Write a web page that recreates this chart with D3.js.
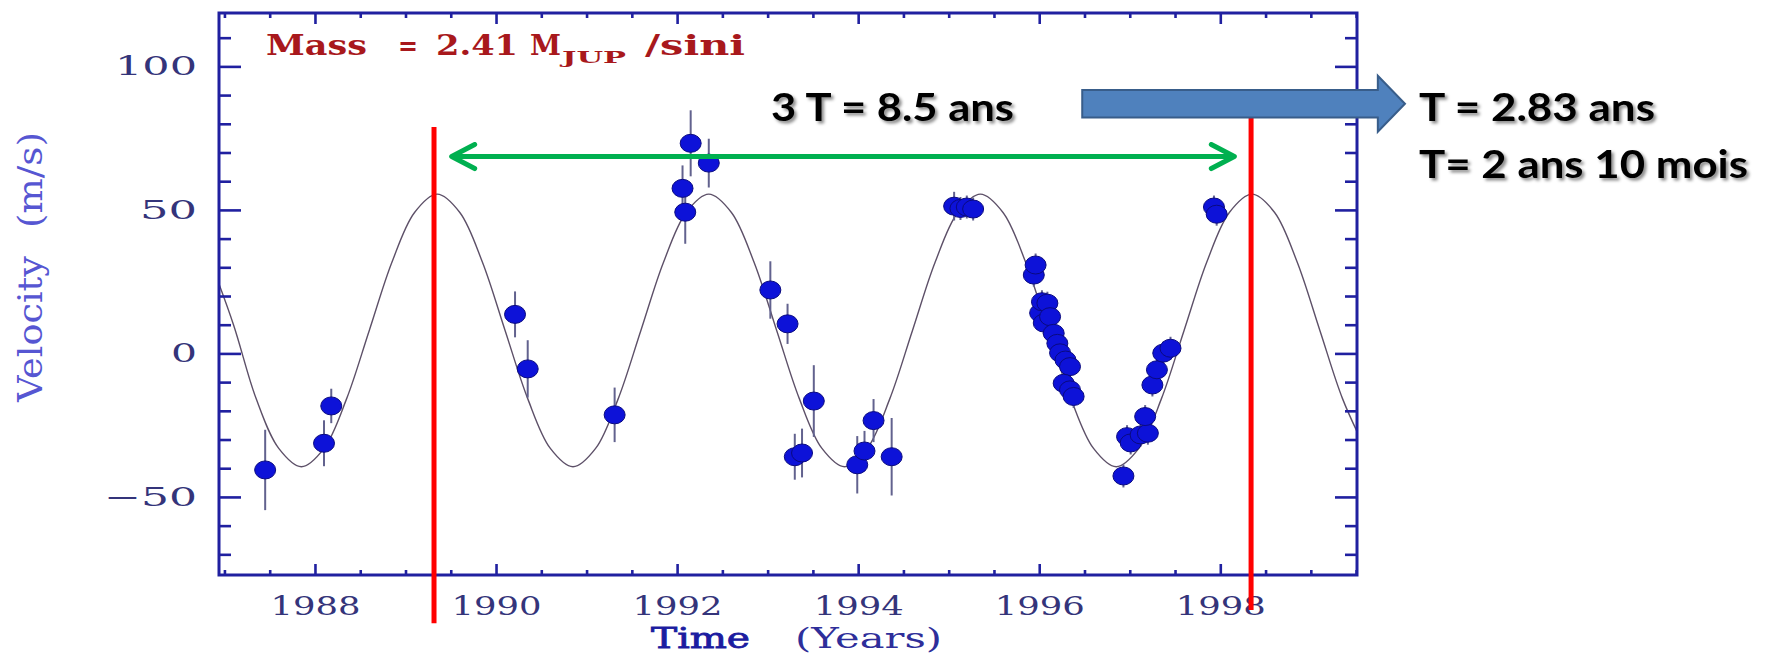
<!DOCTYPE html>
<html>
<head>
<meta charset="utf-8">
<script src="https://cdn.jsdelivr.net/npm/d3@7"></script>
<style>
  html, body { margin: 0; padding: 0; background: #ffffff; }
  svg { display: block; }
</style>
</head>
<body>
<script>
// ---------- data ----------
// fitted orbit curve samples (years, m/s)
const curveYears = [1986.85,1987.10,1987.35,1987.60,1987.85,1988.10,1988.35,1988.60,1988.85,1989.10,
  1989.35,1989.60,1989.85,1990.10,1990.35,1990.60,1990.85,1991.10,1991.35,1991.60,1991.85,1992.10,
  1992.35,1992.60,1992.85,1993.10,1993.35,1993.60,1993.85,1994.10,1994.35,1994.60,1994.85,1995.10,
  1995.35,1995.60,1995.85,1996.10,1996.35,1996.60,1996.85,1997.10,1997.35,1997.60,1997.85,1998.10,
  1998.35,1998.60,1998.85,1999.10,1999.35,1999.60];
const curveVel = [31.75,10,-15.75,-33.1,-39.5,-33.1,-15.75,8,31.75,49.1,
  55.5,49.1,31.75,8,-15.75,-33.1,-39.5,-33.1,-15.75,8,31.75,49.1,
  55.5,49.1,31.75,8,-15.75,-33.1,-39.5,-33.1,-15.75,8,31.75,49.1,
  55.5,49.1,31.75,8,-15.75,-33.1,-39.5,-33.1,-15.75,8,31.75,49.1,
  55.5,49.1,31.75,8,-15.75,-33.1];

// observations: time, velocity, error
const obsYears = [1987.45,1988.10,1988.18,1990.21,1990.35,1991.31,1992.06,1992.09,1992.15,1992.35,
  1993.03,1993.22,1993.30,1993.38,1993.51,1993.99,1994.07,1994.17,1994.37,
  1995.06,1995.13,1995.20,1995.27,
  1995.94,1995.96,1996.01,1996.03,1996.05,1996.09,1996.12,1996.16,1996.20,1996.23,1996.29,1996.34,1996.27,1996.34,1996.38,
  1996.93,1996.97,1997.01,1997.12,1997.20,1997.17,1997.25,1997.30,1997.37,1997.45,
  1997.93,1997.96];
const obsVel = [-40.6,-31.3,-18.3,13.6,-5.4,-21.4,57.5,49.2,73.2,66.3,
  22.1,10.3,-36.0,-34.7,-16.6,-38.8,-34.0,-23.4,-36.0,
  51.3,50.5,51.0,50.3,
  27.3,30.8,14.1,18.0,10.6,17.5,12.8,7.0,3.5,0.2,-2.3,-4.6,-10.4,-12.7,-15.0,
  -42.7,-29.0,-31.2,-28.4,-27.8,-22.0,-11.0,-5.7,0.1,1.8,
  51.0,48.5];
const obsErr = [14,8,6,8,10,9.5,8,11,11.5,8.5,
  10,7,8,8.5,12.5,10,7,7.5,13.5,
  5,4,4,4,
  4,4,4,4,4,4,4,4,4,4,4,4,4,4,4,
  4,4,4,4,4,4,4,4,4,4,
  4,4];

// axis ticks
const xMajorTicks = [1988,1990,1992,1994,1996,1998];
const xMinorTicks = [1987,1987.5,1988.5,1989,1989.5,1990.5,1991,1991.5,1992.5,1993,1993.5,1994.5,1995,1995.5,1996.5,1997,1997.5,1998.5,1999,1999.5];
const yMajorTicks = [-50,0,50,100];
const yMinorTicks = [-70,-60,-40,-30,-20,-10,10,20,30,40,60,70,80,90,110];

// annotations
const redLineYears = [1989.315, 1998.34];
const redLineTop = [78.9, 82.7];
const redLineBottom = [-94, -89.4];
const greenArrow = {from: 1989.51, to: 1998.155, v: 68.6};
const blueArrow = {from: 1996.475, headBase: 1999.74, tip: 2000.04, v: 87};
const massLabel = ["Mass", "=", "2.41", "M", "JUP", "/sini"];
const annoTexts = ["3 T = 8.5 ans", "T = 2.83 ans", "T= 2 ans 10 mois"];

// ---------- drawing ----------
const W = 1768, H = 656;
const L = 219, R = 1357, T = 13, B = 575;
const navy = "#2020a0";
const serif = "'DejaVu Serif', serif";

const svg = d3.select("body").append("svg").attr("width", W).attr("height", H);

const defs = svg.append("defs");
defs.append("clipPath").attr("id", "plotclip")
  .append("rect").attr("x", L).attr("y", T).attr("width", R - L).attr("height", B - T);
const f = defs.append("filter").attr("id", "shadow").attr("x", "-10%").attr("y", "-30%").attr("width", "130%").attr("height", "170%");
f.append("feDropShadow").attr("dx", 2.5).attr("dy", 2.5).attr("stdDeviation", 1.8)
  .attr("flood-color", "#000").attr("flood-opacity", 0.45);
const m = defs.append("marker").attr("id", "chev").attr("viewBox", "0 0 30 30")
  .attr("refX", 27).attr("refY", 15).attr("markerWidth", 30).attr("markerHeight", 30)
  .attr("markerUnits", "userSpaceOnUse").attr("orient", "auto-start-reverse");
m.append("path").attr("d", "M4,3 L27,15 L4,27").attr("fill", "none")
  .attr("stroke", "#00b050").attr("stroke-width", 5).attr("stroke-linecap", "round").attr("stroke-linejoin", "round");

const x = d3.scaleLinear().domain([1986.94, 1999.51]).range([L, R]);
const y = d3.scaleLinear().domain([-77.2, 118.6]).range([B, T]);

// curve
const curveData = curveYears.map((t, i) => [t, curveVel[i]]);
svg.append("path").datum(curveData)
  .attr("clip-path", "url(#plotclip)")
  .attr("fill", "none").attr("stroke", "#5d5068").attr("stroke-width", 1.4)
  .attr("d", d3.line().x(d => x(d[0])).y(d => y(d[1])).curve(d3.curveCatmullRom));

// observations
const obs = obsYears.map((t, i) => ({t, v: obsVel[i], e: obsErr[i]}));
svg.append("g").selectAll("line").data(obs).join("line")
  .attr("x1", d => x(d.t)).attr("x2", d => x(d.t))
  .attr("y1", d => y(d.v - d.e)).attr("y2", d => y(d.v + d.e))
  .attr("stroke", "#62628e").attr("stroke-width", 2);
svg.append("g").selectAll("ellipse").data(obs).join("ellipse")
  .attr("cx", d => x(d.t)).attr("cy", d => y(d.v))
  .attr("rx", 10.5).attr("ry", 9)
  .attr("fill", "#0d12d8").attr("stroke", "#0a0a80").attr("stroke-width", 1);

// axes
function styleAxis(g) {
  g.select(".domain").remove();
  g.selectAll(".tick line").attr("stroke", navy).attr("stroke-width", 2.6);
  g.selectAll(".tick text").attr("fill", "#34347a")
    .attr("font-family", serif).attr("font-size", 26)
    .attr("lengthAdjust", "spacingAndGlyphs");
}
const fmt = d3.format("d");
const yLabelWidth = d => d === 100 ? 82 : d === 50 ? 57 : d === 0 ? 26 : 93;
svg.append("g").attr("transform", `translate(${L},0)`)
  .call(d3.axisLeft(y).tickValues(yMinorTicks).tickSize(-12).tickFormat(""))
  .call(styleAxis);
const yl = svg.append("g").attr("transform", `translate(${L},0)`)
  .call(d3.axisLeft(y).tickValues(yMajorTicks).tickSize(-22).tickPadding(22).tickFormat(fmt))
  .call(styleAxis);
yl.selectAll(".tick text").attr("textLength", d => yLabelWidth(d));
svg.append("g").attr("transform", `translate(${R},0)`)
  .call(d3.axisRight(y).tickValues(yMinorTicks).tickSize(-12).tickFormat(""))
  .call(styleAxis);
svg.append("g").attr("transform", `translate(${R},0)`)
  .call(d3.axisRight(y).tickValues(yMajorTicks).tickSize(-22).tickFormat(""))
  .call(styleAxis);
svg.append("g").attr("transform", `translate(0,${B})`)
  .call(d3.axisBottom(x).tickValues(xMinorTicks).tickSize(-5).tickFormat(""))
  .call(styleAxis);
const xb = svg.append("g").attr("transform", `translate(0,${B})`)
  .call(d3.axisBottom(x).tickValues(xMajorTicks).tickSize(-11).tickPadding(22).tickFormat(fmt))
  .call(styleAxis);
xb.selectAll(".tick text").attr("textLength", 90);
svg.append("g").attr("transform", `translate(0,${T})`)
  .call(d3.axisTop(x).tickValues(xMinorTicks).tickSize(-5).tickFormat(""))
  .call(styleAxis);
svg.append("g").attr("transform", `translate(0,${T})`)
  .call(d3.axisTop(x).tickValues(xMajorTicks).tickSize(-11).tickFormat(""))
  .call(styleAxis);

svg.append("rect").attr("x", L).attr("y", T).attr("width", R - L).attr("height", B - T)
  .attr("fill", "none").attr("stroke", navy).attr("stroke-width", 3);

// axis titles
const xt = svg.append("text").attr("y", 648)
  .attr("font-family", serif).attr("font-size", 27);
xt.append("tspan").attr("x", 651).attr("textLength", 99).attr("lengthAdjust", "spacingAndGlyphs")
  .attr("fill", "#1c1ca0").attr("stroke", "#1c1ca0").attr("stroke-width", 0.8).text("Time");
xt.append("tspan").attr("x", 795).attr("textLength", 147).attr("lengthAdjust", "spacingAndGlyphs")
  .attr("fill", "#2e2e9a").text("(Years)");
const ytl = svg.append("g").attr("transform", "translate(42,0)")
  .attr("font-family", serif).attr("font-size", 33).attr("fill", "#5656d2");
ytl.append("text").attr("transform", "translate(0,402) rotate(-90)")
  .attr("textLength", 146).attr("lengthAdjust", "spacingAndGlyphs").text("Velocity");
ytl.append("text").attr("transform", "translate(0,228) rotate(-90)")
  .attr("textLength", 96).attr("lengthAdjust", "spacingAndGlyphs").text("(m/s)");

// mass label
const ml = svg.append("text").attr("font-family", serif)
  .attr("font-weight", "bold").attr("font-size", 27).attr("fill", "#a8181c");
const massPos = [[266, 55, 101, 27], [398, 55, 20, 27], [436, 55, 82, 27], [530, 55, 31, 27], [562, 63, 64, 17], [645, 55, 100, 27]];
massLabel.forEach((s, i) => {
  const p = massPos[i];
  ml.append("tspan").attr("x", p[0]).attr("y", p[1]).attr("textLength", p[2])
    .attr("lengthAdjust", "spacingAndGlyphs").attr("font-size", p[3]).text(s);
});

// red vertical lines
svg.append("g").selectAll("line").data(redLineYears).join("line")
  .attr("x1", d => x(d)).attr("x2", d => x(d))
  .attr("y1", (d, i) => y(redLineTop[i])).attr("y2", (d, i) => y(redLineBottom[i]))
  .attr("stroke", "#ff0000").attr("stroke-width", 5);

// green double arrow
svg.append("line")
  .attr("x1", x(greenArrow.from)).attr("x2", x(greenArrow.to))
  .attr("y1", y(greenArrow.v)).attr("y2", y(greenArrow.v))
  .attr("stroke", "#00b050").attr("stroke-width", 5)
  .attr("marker-start", "url(#chev)").attr("marker-end", "url(#chev)");

// blue block arrow
const by = y(blueArrow.v), bx0 = x(blueArrow.from), bxh = x(blueArrow.headBase), bxt = x(blueArrow.tip);
svg.append("path")
  .attr("d", `M${bx0},${by - 13.7} H${bxh} V${by - 28} L${bxt},${by} L${bxh},${by + 28} V${by + 13.7} H${bx0} Z`)
  .attr("fill", "#4f81bd").attr("stroke", "#385d8a").attr("stroke-width", 2);

// annotation texts
const at = svg.append("g").attr("font-family", "Lato, 'Open Sans', sans-serif")
  .attr("font-weight", "bold").attr("font-size", 39).attr("fill", "#000").attr("filter", "url(#shadow)");
at.append("text").attr("x", 771).attr("y", 121).attr("textLength", 243).attr("lengthAdjust", "spacingAndGlyphs").text(annoTexts[0]);
at.append("text").attr("x", 1419).attr("y", 121).attr("textLength", 236).attr("lengthAdjust", "spacingAndGlyphs").text(annoTexts[1]);
at.append("text").attr("x", 1419).attr("y", 178).attr("textLength", 329).attr("lengthAdjust", "spacingAndGlyphs").text(annoTexts[2]);
</script>
</body>
</html>
